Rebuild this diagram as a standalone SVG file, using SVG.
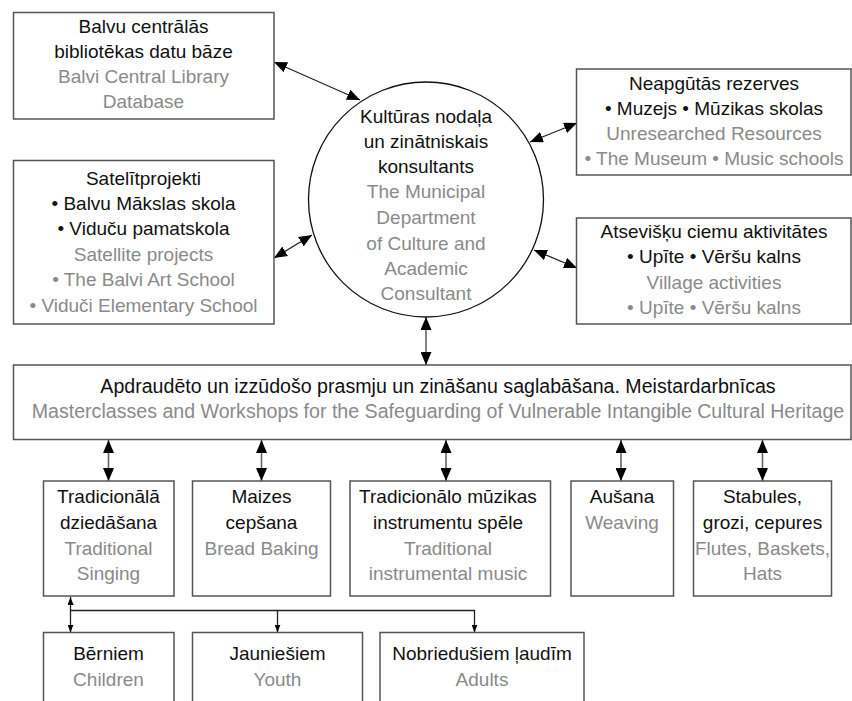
<svg xmlns="http://www.w3.org/2000/svg" width="852" height="701" viewBox="0 0 852 701">
<style>
text{font-family:"Liberation Sans",Arial,sans-serif;font-size:19px;text-anchor:middle;fill:#111}
text.g{fill:#8a8a8a}
text.w{font-size:19.6px}
.box{fill:#fff;stroke:#555;stroke-width:1.5}
.circ{fill:#fff;stroke:#111;stroke-width:1.3}
.c{stroke:#222;stroke-width:1.3;fill:none}
.v{stroke:#666;stroke-width:1.6;fill:none}
</style>
<defs>
<marker id="ah" markerUnits="userSpaceOnUse" viewBox="0 0 13 11" refX="13" refY="5.5" markerWidth="13" markerHeight="11" orient="auto-start-reverse">
<path d="M0,0 L13,5.5 L0,11 z" fill="#000"/>
</marker>
<marker id="as" markerUnits="userSpaceOnUse" viewBox="0 0 8 6" refX="8" refY="3" markerWidth="8" markerHeight="6" orient="auto-start-reverse">
<path d="M0,0 L8,3 L0,6 z" fill="#000"/>
</marker>
</defs>
<rect width="852" height="701" fill="#fff"/>

<g id="connectors">
<line class="c" x1="274" y1="62" x2="360" y2="100" marker-start="url(#ah)" marker-end="url(#ah)"/>
<line class="c" x1="274" y1="258" x2="312" y2="235" marker-start="url(#ah)" marker-end="url(#ah)"/>
<line class="c" x1="530" y1="142" x2="577" y2="123" marker-start="url(#ah)" marker-end="url(#ah)"/>
<line class="c" x1="534" y1="250" x2="577" y2="268" marker-start="url(#ah)" marker-end="url(#ah)"/>
<line class="v" x1="426" y1="317" x2="426" y2="365" marker-start="url(#ah)" marker-end="url(#ah)"/>
<line class="v" x1="108.5" y1="440" x2="108.5" y2="481" marker-start="url(#ah)" marker-end="url(#ah)"/>
<line class="v" x1="261.5" y1="440" x2="261.5" y2="481" marker-start="url(#ah)" marker-end="url(#ah)"/>
<line class="v" x1="446" y1="440" x2="446" y2="481" marker-start="url(#ah)" marker-end="url(#ah)"/>
<line class="v" x1="621" y1="440" x2="621" y2="481" marker-start="url(#ah)" marker-end="url(#ah)"/>
<line class="v" x1="762.5" y1="440" x2="762.5" y2="481" marker-start="url(#ah)" marker-end="url(#ah)"/>
<line class="c" x1="70.5" y1="597" x2="70.5" y2="632.5" marker-start="url(#as)" marker-end="url(#as)"/>
<polyline class="c" points="70.5,610.5 474.5,610.5 474.5,632.5" marker-end="url(#as)"/>
<line class="c" x1="277.5" y1="610.5" x2="277.5" y2="632.5" marker-end="url(#as)"/>
</g>

<g id="n-library">
<rect class="box" x="13.5" y="12.5" width="260.5" height="106.5"/>
<text x="143.5" y="33">Balvu centrālās</text>
<text x="143.5" y="58">bibliotēkas datu bāze</text>
<text class="g" x="143.5" y="83">Balvi Central Library</text>
<text class="g" x="143.5" y="108">Database</text>
</g>

<g id="n-satellite">
<rect class="box" x="13.5" y="160.5" width="260.5" height="163.5"/>
<text x="143.5" y="185">Satelītprojekti</text>
<text x="143.5" y="210">• Balvu Mākslas skola</text>
<text x="143.5" y="235">• Viduču pamatskola</text>
<text class="g" x="143.5" y="261">Satellite projects</text>
<text class="g" x="143.5" y="286">• The Balvi Art School</text>
<text class="g" x="143.5" y="312">• Viduči Elementary School</text>
</g>

<g id="n-center">
<circle class="circ" cx="426" cy="199.5" r="117.5"/>
<text x="426" y="123">Kultūras nodaļa</text>
<text x="426" y="148">un zinātniskais</text>
<text x="426" y="173">konsultants</text>
<text class="g" x="426" y="198">The Municipal</text>
<text class="g" x="426" y="224">Department</text>
<text class="g" x="426" y="250">of Culture and</text>
<text class="g" x="426" y="275">Academic</text>
<text class="g" x="426" y="300">Consultant</text>
</g>

<g id="n-reserves">
<rect class="box" x="576.5" y="69" width="274.5" height="106"/>
<text x="714" y="90">Neapgūtās rezerves</text>
<text x="714" y="115">• Muzejs • Mūzikas skolas</text>
<text class="g" x="714" y="140">Unresearched Resources</text>
<text class="g" x="714" y="165">• The Museum • Music schools</text>
</g>

<g id="n-villages">
<rect class="box" x="576.5" y="218" width="274.5" height="106"/>
<text x="714" y="238">Atsevišķu ciemu aktivitātes</text>
<text x="714" y="263">• Upīte • Vēršu kalns</text>
<text class="g" x="714" y="289">Village activities</text>
<text class="g" x="714" y="314">• Upīte • Vēršu kalns</text>
</g>

<g id="n-masterclasses">
<rect class="box" x="13.5" y="365" width="837.5" height="74.5"/>
<text class="w" x="438" y="393">Apdraudēto un izzūdošo prasmju un zināšanu saglabāšana. Meistardarbnīcas</text>
<text class="g w" x="438" y="418">Masterclasses and Workshops for the Safeguarding of Vulnerable Intangible Cultural Heritage</text>
</g>

<g id="n-singing">
<rect class="box" x="43.5" y="481" width="130.5" height="115"/>
<text x="108.5" y="503">Tradicionālā</text>
<text x="108.5" y="529">dziedāšana</text>
<text class="g" x="108.5" y="555">Traditional</text>
<text class="g" x="108.5" y="580">Singing</text>
</g>

<g id="n-bread">
<rect class="box" x="192.5" y="481" width="138" height="115"/>
<text x="261.5" y="503">Maizes</text>
<text x="261.5" y="529">cepšana</text>
<text class="g" x="261.5" y="555">Bread Baking</text>
</g>

<g id="n-music">
<rect class="box" x="350" y="481" width="200.5" height="115"/>
<text x="448" y="503">Tradicionālo mūzikas</text>
<text x="448" y="529">instrumentu spēle</text>
<text class="g" x="448" y="555">Traditional</text>
<text class="g" x="448" y="580">instrumental music</text>
</g>

<g id="n-weaving">
<rect class="box" x="571" y="481" width="102.5" height="115"/>
<text x="622" y="503">Aušana</text>
<text class="g" x="622" y="529">Weaving</text>
</g>

<g id="n-flutes">
<rect class="box" x="693.5" y="481" width="138" height="115"/>
<text x="762.5" y="503">Stabules,</text>
<text x="762.5" y="529">grozi, cepures</text>
<text class="g" x="762.5" y="555">Flutes, Baskets,</text>
<text class="g" x="762.5" y="580">Hats</text>
</g>

<g id="n-children">
<rect class="box" x="43.5" y="632.5" width="130.5" height="80"/>
<text x="108.5" y="660">Bērniem</text>
<text class="g" x="108.5" y="686">Children</text>
</g>

<g id="n-youth">
<rect class="box" x="192.5" y="632.5" width="170" height="80"/>
<text x="277.5" y="660">Jauniešiem</text>
<text class="g" x="277.5" y="686">Youth</text>
</g>

<g id="n-adults">
<rect class="box" x="380" y="632.5" width="204" height="80"/>
<text x="482" y="660">Nobriedušiem ļaudīm</text>
<text class="g" x="482" y="686">Adults</text>
</g>
</svg>
